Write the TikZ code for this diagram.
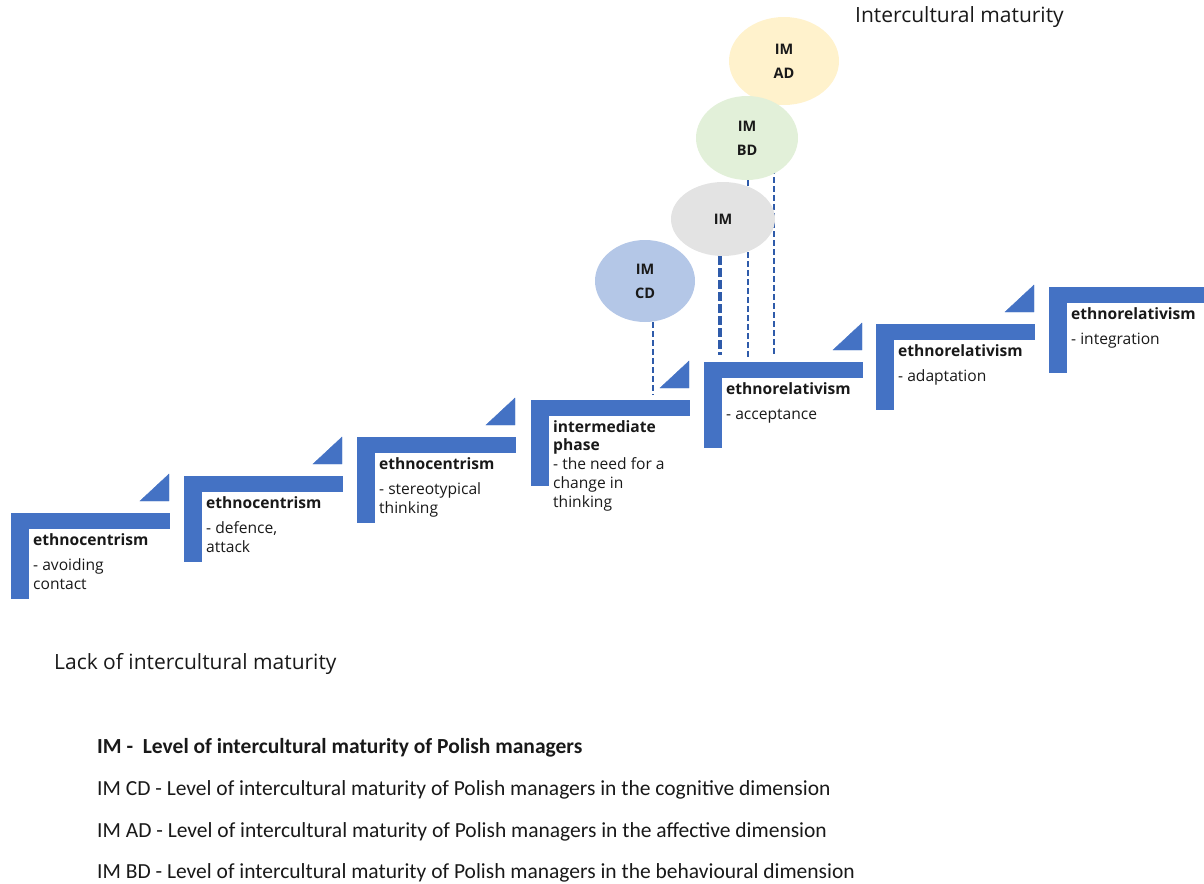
\documentclass[tikz,border=0pt]{standalone}
\usepackage{fontspec}
\setmainfont{Open Sans}
\newfontfamily\legendfont{Carlito}
\usetikzlibrary{shapes.geometric,backgrounds}
\definecolor{stepblue}{HTML}{4472C4}
\definecolor{dashblue}{HTML}{2F5BAA}
\definecolor{cdfill}{HTML}{B4C7E7}
\definecolor{imfill}{HTML}{E3E3E3}
\definecolor{bdfill}{HTML}{E2F0D9}
\definecolor{adfill}{HTML}{FFF2CC}

\begin{document}
\begin{tikzpicture}[x=1pt,y=-1pt,
  steptext/.style={anchor=north west,align=left,inner sep=0pt,text=black!90,
    font=\fontsize{15.6}{18.8}\selectfont},
  imcircle/.style={ellipse,inner sep=0pt,align=center,text=black!90,
    font=\bfseries\fontsize{14.5}{24}\selectfont},
  imline/.style={draw=dashblue,line width=2.4pt,dash pattern=on 6pt off 3pt},
  imthick/.style={draw=dashblue,line width=4.5pt,dash pattern=on 9pt off 3pt},
  heading/.style={anchor=west,inner sep=0pt,text=black!90,font=\fontsize{21}{24}\selectfont},
  legend/.style={anchor=west,inner sep=0pt,text=black!90,font=\legendfont\fontsize{21.5}{24}\selectfont}]
\useasboundingbox (0,0) rectangle (1204,883);
\clip (0,0) rectangle (1204,883);
\foreach \n/\sx/\sy in {1/11/513,2/184/476,3/357/437,4/531/400,5/704/362,6/876/324,7/1049/287}{
  \filldraw[color=stepblue] (\sx,\sy) rectangle +(158,15);
  \filldraw[color=stepblue] (\sx,\sy) rectangle +(17,85);
  \coordinate (s\n) at (\sx,\sy);
}
\foreach \n in {1,...,6}
  \filldraw[color=stepblue] ([shift={(129,-12)}]s\n) -- ++(29,0) -- ++(0,-27) -- cycle;
\node[steptext] (t1) at ([shift={(22,20)}]s1) {\textbf{ethnocentrism}\\[7pt]- avoiding\\contact};
\node[steptext] (t2) at ([shift={(22,20)}]s2) {\textbf{ethnocentrism}\\[7pt]- defence,\\attack};
\node[steptext] (t3) at ([shift={(22,20)}]s3) {\textbf{ethnocentrism}\\[7pt]- stereotypical\\thinking};
\node[steptext] (t4) at ([shift={(22,20)}]s4) {\textbf{intermediate}\\\textbf{phase}\\- the need for a\\change in\\thinking};
\node[steptext] (t5) at ([shift={(22,20)}]s5) {\textbf{ethnorelativism}\\[7pt]- acceptance};
\node[steptext] (t6) at ([shift={(22,20)}]s6) {\textbf{ethnorelativism}\\[7pt]- adaptation};
\node[steptext] (t7) at ([shift={(22,20)}]s7) {\textbf{ethnorelativism}\\[7pt]- integration};
\node[imcircle,fill=adfill,minimum width=110,minimum height=88] (ad) at (784,61) {IM\\AD};
\node[imcircle,fill=bdfill,minimum width=102,minimum height=84] (bd) at (747,138) {IM\\BD};
\node[imcircle,fill=imfill,minimum width=104,minimum height=74] (im) at (723,219) {IM};
\node[imcircle,fill=cdfill,minimum width=100,minimum height=82] (cd) at (645,281) {IM\\CD};
\begin{scope}[on background layer]
\coordinate (cdend) at (653,395);
\coordinate (imend) at (720,355);
\coordinate (bdend) at (748,357);
\coordinate (adend) at (774,357);
\draw[imline] (cd.south -| cdend) -- (cdend);
\draw[imthick] (im.south -| imend) -- (imend);
\draw[imline] (bd.south -| bdend) -- (bdend);
\draw[imline] (ad.south -| adend) -- (adend);
\end{scope}
\node[heading] (mature) at (855,17) {Intercultural maturity};
\node[heading] (lack) at (54,664) {Lack of intercultural maturity};
\node[legend] (l1) at (97,748) {\bfseries IM -\ \ Level of intercultural maturity of Polish managers};
\node[legend] (l2) at (97,790) {IM CD - Level of intercultural maturity of Polish managers in the cognitive dimension};
\node[legend] (l3) at (97,832) {IM AD - Level of intercultural maturity of Polish managers in the affective dimension};
\node[legend] (l4) at (97,873) {IM BD - Level of intercultural maturity of Polish managers in the behavioural dimension};
\end{tikzpicture}
\end{document}
